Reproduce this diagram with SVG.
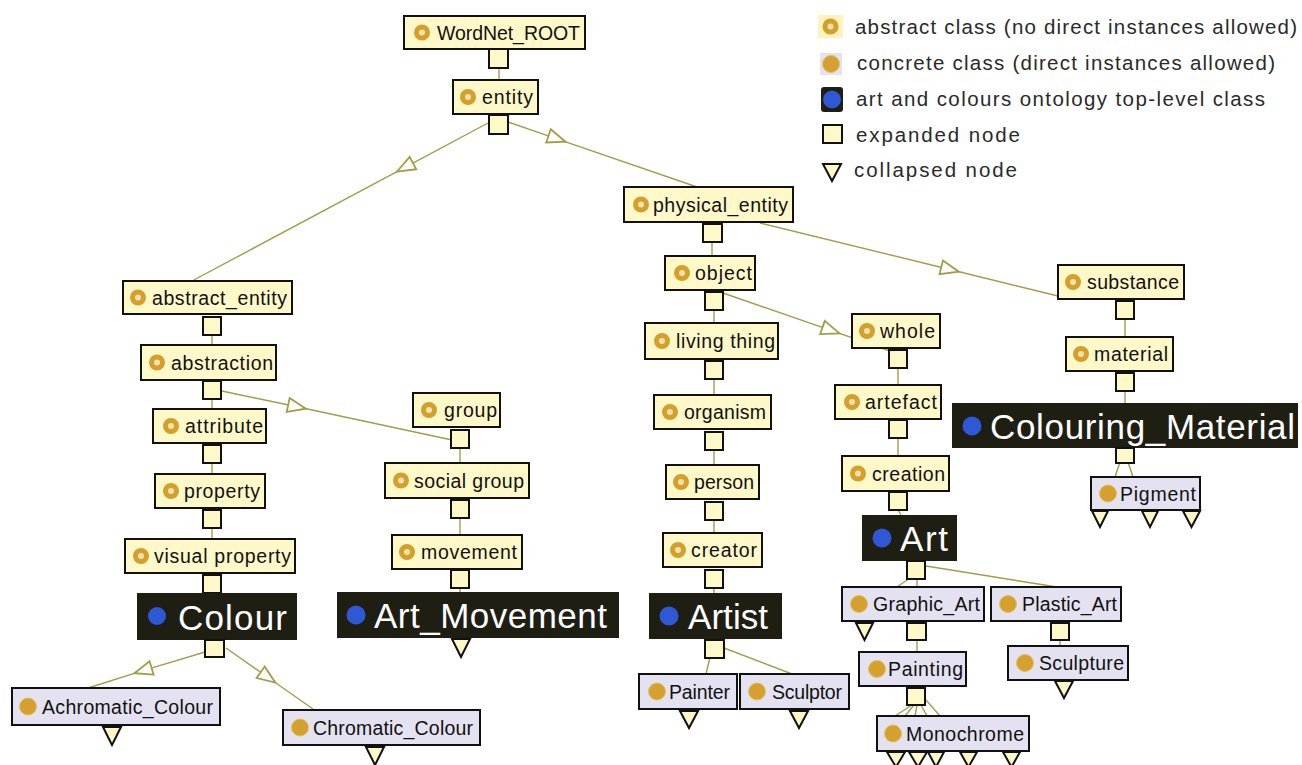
<svg xmlns="http://www.w3.org/2000/svg" width="1302" height="765" viewBox="0 0 1302 765">
<style>
.abs rect, .con rect { stroke:#111; stroke-width:2; }
.abs rect { fill:#fff9c9; }
.con rect { fill:#e4e2f0; }
.top rect { fill:#1e1e12; stroke:none; }
.ai { fill:#f3e2b0; stroke:#d3a02c; stroke-width:5; }
.ci { fill:#d4a12e; stroke:#e2bf62; stroke-width:1; }
.bi { fill:#2e58d4; }
text { font-family:"Liberation Sans", Arial, sans-serif; }
.lbl { font-size:19.5px; fill:#111; }
.big { font-size:35px; fill:#fff; }
.leg { font-size:20.5px; fill:#2a2a2a; }
g rect.sq { fill:#fff9c9; stroke:#111; stroke-width:2; }
.cl { fill:#fff9c9; stroke:#111; stroke-width:2; stroke-linejoin:miter; }
.edge { stroke:#a39d4a; stroke-width:1.4; fill:none; }
.isa { stroke:#a39d4a; stroke-width:1.4; fill:none; marker-mid:url(#tri); }
</style>
<defs>
<marker id="tri" viewBox="-11 -9 22 18" markerWidth="22" markerHeight="18" refX="0" refY="0" orient="auto" markerUnits="userSpaceOnUse">
<path d="M-9,-7 L9,0 L-9,7 Z" fill="#fff" stroke="#a39d4a" stroke-width="1.8"/>
</marker>
</defs>
<rect x="0" y="0" width="1302" height="765" fill="#fff"/>

<g id="connectors">
<polyline class="isa" points="488,123 405,167.3 192,281"/>
<polyline class="isa" points="508,122 557,138.8 700,188"/>
<polyline class="isa" points="760,223 950,269.5 1058,296"/>
<polyline class="isa" points="723,293 831,330.4 890,351"/>
<polyline class="isa" points="222,391 297,406.8 452,440"/>
<polyline class="isa" points="205,652 143,670.6 88,688"/>
<polyline class="isa" points="226,648 268,677.5 313,709"/>
<line class="edge" x1="499" y1="67" x2="499" y2="80"/>
<line class="edge" x1="712" y1="242" x2="712" y2="256"/>
<line class="edge" x1="714" y1="310" x2="714" y2="323"/>
<line class="edge" x1="714" y1="379" x2="714" y2="395"/>
<line class="edge" x1="714" y1="450" x2="714" y2="465"/>
<line class="edge" x1="714" y1="520" x2="714" y2="533"/>
<line class="edge" x1="714" y1="588" x2="714" y2="593"/>
<line class="edge" x1="710" y1="657" x2="706" y2="674"/>
<line class="edge" x1="724" y1="648" x2="792" y2="674"/>
<line class="edge" x1="898" y1="368" x2="898" y2="385"/>
<line class="edge" x1="898" y1="438" x2="898" y2="456"/>
<line class="edge" x1="898" y1="510" x2="901" y2="515"/>
<line class="edge" x1="910" y1="578" x2="897" y2="587"/>
<line class="edge" x1="917" y1="578" x2="917" y2="587"/>
<line class="edge" x1="926" y1="566" x2="1057" y2="587"/>
<line class="edge" x1="917" y1="640" x2="917" y2="652"/>
<line class="edge" x1="1060" y1="640" x2="1060" y2="646"/>
<line class="edge" x1="912" y1="705" x2="895" y2="716"/>
<line class="edge" x1="914" y1="705" x2="905" y2="716"/>
<line class="edge" x1="917" y1="705" x2="915" y2="716"/>
<line class="edge" x1="921" y1="705" x2="927" y2="716"/>
<line class="edge" x1="926" y1="700" x2="940" y2="716"/>
<line class="edge" x1="1125" y1="319" x2="1125" y2="337"/>
<line class="edge" x1="1125" y1="391" x2="1125" y2="403"/>
<line class="edge" x1="1120" y1="462" x2="1115" y2="477"/>
<line class="edge" x1="1128" y1="462" x2="1133" y2="477"/>
<line class="edge" x1="212" y1="335" x2="212" y2="345"/>
<line class="edge" x1="212" y1="399" x2="212" y2="409"/>
<line class="edge" x1="212" y1="463" x2="212" y2="474"/>
<line class="edge" x1="212" y1="528" x2="212" y2="539"/>
<line class="edge" x1="460" y1="448" x2="460" y2="463"/>
<line class="edge" x1="460" y1="518" x2="460" y2="535"/>
<line class="edge" x1="460" y1="588" x2="460" y2="592"/>
</g>

<g id="n-wordnet-root" class="abs"><rect x="404" y="16" width="181" height="33"/><circle class="ai" cx="422" cy="32.5" r="5.5"/><text class="lbl" x="437" y="40" textLength="143">WordNet_ROOT</text><rect class="sq" x="489" y="49" width="19" height="19"/></g>
<g id="n-entity" class="abs"><rect x="453" y="80" width="85" height="34"/><circle class="ai" cx="468" cy="97" r="5.5"/><text class="lbl" x="482" y="104" textLength="51">entity</text><rect class="sq" x="489" y="115" width="19" height="19"/></g>
<g id="n-physical-entity" class="abs"><rect x="624" y="187" width="169" height="35"/><circle class="ai" cx="641" cy="204.5" r="5.5"/><text class="lbl" x="653" y="211.5" textLength="135">physical_entity</text><rect class="sq" x="703" y="224" width="19" height="18"/></g>
<g id="n-object" class="abs"><rect x="665" y="256" width="90" height="34"/><circle class="ai" cx="682" cy="273" r="5.5"/><text class="lbl" x="695" y="280" textLength="57">object</text><rect class="sq" x="705" y="292" width="18" height="18"/></g>
<g id="n-living-thing" class="abs"><rect x="645" y="323" width="133" height="36"/><circle class="ai" cx="662" cy="341" r="5.5"/><text class="lbl" x="676" y="348" textLength="99">living thing</text><rect class="sq" x="705" y="361" width="18" height="18"/></g>
<g id="n-organism" class="abs"><rect x="654" y="395" width="117" height="34"/><circle class="ai" cx="670" cy="412" r="5.5"/><text class="lbl" x="684" y="419" textLength="82">organism</text><rect class="sq" x="705" y="432" width="18" height="18"/></g>
<g id="n-person" class="abs"><rect x="666" y="465" width="93" height="34"/><circle class="ai" cx="681" cy="482" r="5.5"/><text class="lbl" x="694" y="489" textLength="60">person</text><rect class="sq" x="705" y="502" width="18" height="18"/></g>
<g id="n-creator" class="abs"><rect x="663" y="533" width="99" height="34"/><circle class="ai" cx="678" cy="550" r="5.5"/><text class="lbl" x="691" y="557" textLength="66">creator</text><rect class="sq" x="705" y="570" width="18" height="18"/></g>
<g id="n-artist" class="top"><rect x="649" y="593" width="133" height="46"/><circle class="bi" cx="669" cy="616" r="9.5"/><text class="big" x="688" y="629" textLength="80">Artist</text><rect class="sq" x="705" y="640" width="19" height="18"/></g>
<g id="n-painter" class="con"><rect x="639" y="674" width="98" height="35"/><circle class="ci" cx="657" cy="691.5" r="8.5"/><text class="lbl" x="669" y="698.5" textLength="61">Painter</text><polygon class="cl" points="680,711 698,711 689,728"/></g>
<g id="n-sculptor" class="con"><rect x="740" y="674" width="109" height="35"/><circle class="ci" cx="757" cy="691.5" r="8.5"/><text class="lbl" x="772" y="698.5" textLength="70">Sculptor</text><polygon class="cl" points="790,711 808,711 799,728"/></g>
<g id="n-whole" class="abs"><rect x="852" y="314" width="88" height="34"/><circle class="ai" cx="867" cy="331" r="5.5"/><text class="lbl" x="880" y="338" textLength="55">whole</text><rect class="sq" x="889" y="350" width="18" height="18"/></g>
<g id="n-artefact" class="abs"><rect x="835" y="385" width="106" height="34"/><circle class="ai" cx="852" cy="402" r="5.5"/><text class="lbl" x="865" y="409" textLength="72">artefact</text><rect class="sq" x="889" y="420" width="18" height="18"/></g>
<g id="n-creation" class="abs"><rect x="842" y="456" width="107" height="35"/><circle class="ai" cx="858" cy="473.5" r="5.5"/><text class="lbl" x="872" y="480.5" textLength="73">creation</text><rect class="sq" x="889" y="492" width="18" height="18"/></g>
<g id="n-art" class="top"><rect x="862" y="515" width="95" height="46"/><circle class="bi" cx="882" cy="538" r="9.5"/><text class="big" x="900" y="551" textLength="48">Art</text><rect class="sq" x="907" y="561" width="18" height="18"/></g>
<g id="n-graphic-art" class="con"><rect x="842" y="587" width="142" height="34"/><circle class="ci" cx="859" cy="604" r="8.5"/><text class="lbl" x="873" y="611" textLength="107">Graphic_Art</text><polygon class="cl" points="856,623 873,623 864.5,640"/><rect class="sq" x="907" y="623" width="19" height="17"/></g>
<g id="n-plastic-art" class="con"><rect x="991" y="587" width="130" height="34"/><circle class="ci" cx="1008" cy="604" r="8.5"/><text class="lbl" x="1022" y="611" textLength="95">Plastic_Art</text><rect class="sq" x="1051" y="623" width="18" height="17"/></g>
<g id="n-painting" class="con"><rect x="859" y="652" width="107" height="34"/><circle class="ci" cx="877" cy="669" r="8.5"/><text class="lbl" x="888" y="676" textLength="75">Painting</text><rect class="sq" x="907" y="688" width="18" height="17"/></g>
<g id="n-sculpture" class="con"><rect x="1008" y="646" width="120" height="34"/><circle class="ci" cx="1025" cy="663" r="8.5"/><text class="lbl" x="1039" y="670" textLength="85">Sculpture</text><polygon class="cl" points="1055,681 1073,681 1064,698"/></g>
<g id="n-monochrome" class="con"><rect x="877" y="716" width="152" height="35"/><circle class="ci" cx="893" cy="733.5" r="8.5"/><text class="lbl" x="906" y="740.5" textLength="118">Monochrome</text><polygon class="cl" points="887,752 905,752 896,767"/><polygon class="cl" points="909,752 927,752 918,767"/><polygon class="cl" points="928,752 944,752 936,767"/><polygon class="cl" points="960,752 977,752 968.5,767"/><polygon class="cl" points="1003,752 1020,752 1011.5,767"/></g>
<g id="n-substance" class="abs"><rect x="1058" y="265" width="126" height="34"/><circle class="ai" cx="1073" cy="282" r="5.5"/><text class="lbl" x="1087" y="289" textLength="92">substance</text><rect class="sq" x="1116" y="301" width="18" height="18"/></g>
<g id="n-material" class="abs"><rect x="1066" y="337" width="107" height="34"/><circle class="ai" cx="1081" cy="354" r="5.5"/><text class="lbl" x="1094" y="361" textLength="74">material</text><rect class="sq" x="1116" y="373" width="18" height="18"/></g>
<g id="n-colouring-material" class="top"><rect x="952" y="403" width="346" height="45"/><circle class="bi" cx="972" cy="426" r="9.5"/><text class="big" x="990" y="439" textLength="305">Colouring_Material</text><rect class="sq" x="1116" y="448" width="18" height="15"/></g>
<g id="n-pigment" class="con"><rect x="1091" y="477" width="109" height="33"/><circle class="ci" cx="1108" cy="493.5" r="8.5"/><text class="lbl" x="1120" y="500.5" textLength="76">Pigment</text><polygon class="cl" points="1092,511 1108,511 1100,527"/><polygon class="cl" points="1142,511 1158,511 1150,527"/><polygon class="cl" points="1183,511 1200,511 1191.5,527"/></g>
<g id="n-abstract-entity" class="abs"><rect x="123" y="281" width="169" height="33"/><circle class="ai" cx="138" cy="297.5" r="5.5"/><text class="lbl" x="152" y="305" textLength="135">abstract_entity</text><rect class="sq" x="203" y="317" width="18" height="18"/></g>
<g id="n-abstraction" class="abs"><rect x="141" y="345" width="135" height="35"/><circle class="ai" cx="157" cy="362.5" r="5.5"/><text class="lbl" x="171" y="369.5" textLength="102">abstraction</text><rect class="sq" x="203" y="381" width="18" height="18"/></g>
<g id="n-attribute" class="abs"><rect x="153" y="409" width="113" height="34"/><circle class="ai" cx="171" cy="426" r="5.5"/><text class="lbl" x="185" y="433" textLength="78">attribute</text><rect class="sq" x="203" y="445" width="18" height="18"/></g>
<g id="n-property" class="abs"><rect x="155" y="474" width="110" height="34"/><circle class="ai" cx="171" cy="491" r="5.5"/><text class="lbl" x="184" y="498" textLength="76">property</text><rect class="sq" x="203" y="510" width="18" height="18"/></g>
<g id="n-visual-property" class="abs"><rect x="125" y="539" width="170" height="34"/><circle class="ai" cx="141" cy="556" r="5.5"/><text class="lbl" x="154" y="563" textLength="137">visual property</text><rect class="sq" x="203" y="575" width="18" height="18"/></g>
<g id="n-colour" class="top"><rect x="137" y="593" width="160" height="47"/><circle class="bi" cx="157" cy="616" r="9"/><text class="big" x="178" y="630" textLength="109">Colour</text><rect class="sq" x="205" y="640" width="19" height="17"/></g>
<g id="n-achromatic-colour" class="con"><rect x="12" y="688" width="208" height="37"/><circle class="ci" cx="28" cy="706.5" r="8.5"/><text class="lbl" x="42" y="713.5" textLength="171">Achromatic_Colour</text><polygon class="cl" points="103,727 121,727 112,745"/></g>
<g id="n-chromatic-colour" class="con"><rect x="283" y="710" width="197" height="35"/><circle class="ci" cx="300" cy="727.5" r="8.5"/><text class="lbl" x="313" y="734.5" textLength="160">Chromatic_Colour</text><polygon class="cl" points="366,747 384,747 375,765"/></g>
<g id="n-group" class="abs"><rect x="413" y="393" width="87" height="34"/><circle class="ai" cx="429" cy="410" r="5.5"/><text class="lbl" x="444" y="417" textLength="53">group</text><rect class="sq" x="451" y="430" width="18" height="18"/></g>
<g id="n-social-group" class="abs"><rect x="385" y="463" width="144" height="35"/><circle class="ai" cx="401" cy="480.5" r="5.5"/><text class="lbl" x="414" y="487.5" textLength="110">social group</text><rect class="sq" x="451" y="500" width="18" height="18"/></g>
<g id="n-movement" class="abs"><rect x="392" y="535" width="130" height="34"/><circle class="ai" cx="407" cy="552" r="5.5"/><text class="lbl" x="421" y="559" textLength="96">movement</text><rect class="sq" x="451" y="570" width="18" height="18"/></g>
<g id="n-art-movement" class="top"><rect x="337" y="592" width="282" height="46"/><circle class="bi" cx="356" cy="615" r="9.5"/><text class="big" x="374" y="628" textLength="233">Art_Movement</text><polygon class="cl" points="452,639 470,639 461,657"/></g>

<g id="legend">
<rect x="818" y="15" width="25" height="23" fill="#fdf3bc"/><circle class="ai" cx="830.5" cy="26.5" r="5.5"/>
<text class="leg" x="855" y="34" textLength="442">abstract class (no direct instances allowed)</text>
<rect x="820" y="53" width="22" height="22" fill="#e4e2f0"/><circle class="ci" cx="831" cy="64" r="8.5"/>
<text class="leg" x="857" y="70" textLength="418">concrete class (direct instances allowed)</text>
<rect x="821" y="87" width="22" height="25" rx="3" fill="#1e1e12"/><circle class="bi" cx="832" cy="99.5" r="9"/>
<text class="leg" x="856" y="106" textLength="409">art and colours ontology top-level class</text>
<rect class="sq" x="823" y="125" width="19" height="18"/>
<text class="leg" x="856" y="142" textLength="164">expanded node</text>
<polygon class="cl" points="823,164 841,164 832,181"/>
<text class="leg" x="854" y="177" textLength="163">collapsed node</text>
</g>
</svg>
